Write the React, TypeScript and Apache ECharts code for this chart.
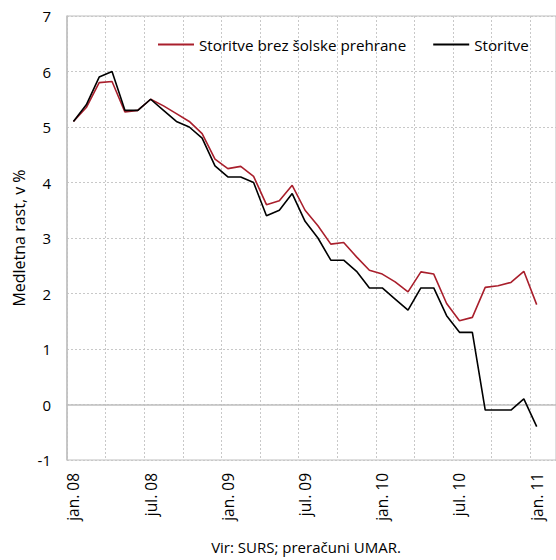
import React, { useEffect, useRef } from "react";
import * as echarts from "echarts";

const categories = [
  "jan. 08", "feb. 08", "mar. 08", "apr. 08", "maj. 08", "jun. 08",
  "jul. 08", "avg. 08", "sep. 08", "okt. 08", "nov. 08", "dec. 08",
  "jan. 09", "feb. 09", "mar. 09", "apr. 09", "maj. 09", "jun. 09",
  "jul. 09", "avg. 09", "sep. 09", "okt. 09", "nov. 09", "dec. 09",
  "jan. 10", "feb. 10", "mar. 10", "apr. 10", "maj. 10", "jun. 10",
  "jul. 10", "avg. 10", "sep. 10", "okt. 10", "nov. 10", "dec. 10",
  "jan. 11", "feb. 11",
];

const seriesNames = ["Storitve brez šolske prehrane", "Storitve"];

const storitveBrezPrehrane = [
  5.1, 5.35, 5.8, 5.82, 5.27, 5.3, 5.5, 5.38, 5.24, 5.1, 4.88, 4.42,
  4.25, 4.29, 4.11, 3.6, 3.67, 3.95, 3.5, 3.22, 2.89, 2.92, 2.66, 2.42,
  2.35, 2.21, 2.03, 2.39, 2.35, 1.82, 1.51, 1.57, 2.11, 2.14, 2.2, 2.4,
  1.8,
];

const storitve = [
  5.1, 5.4, 5.9, 6.0, 5.3, 5.3, 5.5, 5.3, 5.1, 5.0, 4.8, 4.3,
  4.1, 4.1, 4.0, 3.4, 3.5, 3.8, 3.3, 3.0, 2.6, 2.6, 2.4, 2.1,
  2.1, 1.9, 1.7, 2.1, 2.1, 1.6, 1.3, 1.3, -0.1, -0.1, -0.1, 0.1,
  -0.4,
];

const yMin = -1;
const yMax = 7;
const yInterval = 1;
const yAxisName = "Medletna rast, v %";
const sourceNote = "Vir: SURS; preračuni UMAR.";

const colors = ["#A91F2C", "#000000"];
const FONT = "'Open Sans', sans-serif";

export default function App() {
  const ref = useRef<HTMLDivElement>(null);

  useEffect(() => {
    if (!ref.current) return;
    const chart = echarts.init(ref.current, undefined, { renderer: "svg" });
    chart.setOption({
      animation: false,
      backgroundColor: "#ffffff",
      textStyle: { fontFamily: FONT },
      grid: {
        left: 67,
        top: 16,
        bottom: 100,
        right: -5,
        show: true,
        borderColor: "#BFBFBF",
        borderWidth: 1,
      },
      legend: {
        left: 153,
        top: 32,
        icon: "rect",
        itemWidth: 36,
        itemHeight: 2,
        itemGap: 27,
        textStyle: { fontFamily: FONT, fontSize: 15.2, color: "#000" },
        data: seriesNames,
      },
      xAxis: {
        type: "category",
        data: categories,
        boundaryGap: true,
        axisLine: { show: true, lineStyle: { color: "#BFBFBF", width: 1.5 } },
        axisTick: { show: false },
        axisLabel: {
          interval: 5,
          rotate: 90,
          margin: 13,
          fontFamily: FONT,
          fontSize: 15.5,
          color: "#000",
        },
        splitLine: {
          show: true,
          interval: 2,
          lineStyle: { color: "#C8C8C8", type: [2, 2], width: 1 },
        },
      },
      yAxis: {
        type: "value",
        min: yMin,
        max: yMax,
        interval: yInterval,
        name: yAxisName,
        nameLocation: "middle",
        nameGap: 40,
        nameTextStyle: { fontFamily: FONT, fontSize: 16, color: "#000" },
        axisLine: { show: true, lineStyle: { color: "#BFBFBF", width: 1.5 } },
        axisTick: { show: false },
        axisLabel: { margin: 16, fontFamily: FONT, fontSize: 15, color: "#000" },
        splitLine: {
          show: true,
          lineStyle: { color: "#C8C8C8", type: [2, 2], width: 1 },
        },
      },
      series: [
        {
          name: seriesNames[0],
          type: "line",
          data: storitveBrezPrehrane,
          symbol: "none",
          lineStyle: { color: colors[0], width: 1.6 },
          itemStyle: { color: colors[0] },
          z: 3,
        },
        {
          name: seriesNames[1],
          type: "line",
          data: storitve,
          symbol: "none",
          lineStyle: { color: colors[1], width: 1.6 },
          itemStyle: { color: colors[1] },
          z: 4,
        },
      ],
      graphic: [
        {
          type: "text",
          x: 306,
          y: 547,
          style: {
            text: sourceNote,
            fontFamily: FONT,
            fontSize: 15,
            fill: "#000",
            align: "center",
            verticalAlign: "middle",
          },
        },
      ],
    });
    return () => chart.dispose();
  }, []);

  return (
    <div
      ref={ref}
      style={{ position: "absolute", left: 0, top: 0, width: 556, height: 560 }}
    />
  );
}
